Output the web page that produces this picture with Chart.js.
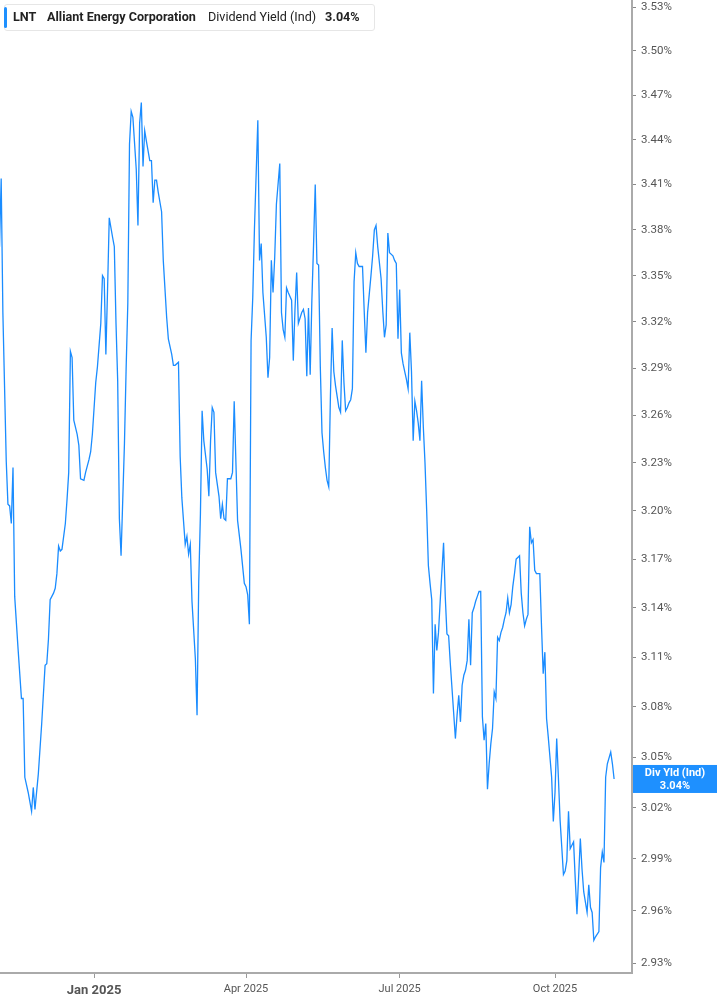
<!DOCTYPE html>
<html>
<head>
<meta charset="utf-8">
<title>LNT Dividend Yield (Ind)</title>
<script src="https://cdn.jsdelivr.net/npm/chart.js@4.4.1/dist/chart.umd.min.js"></script>
<style>
    html, body { margin: 0; padding: 0; background: #fff; }
    #wrap { position: relative; width: 717px; height: 1005px; }
    #legend {
        position: absolute; left: 4px; top: 4px; width: 369px; height: 25px;
        background: #fff; border: 1px solid #e6e6e6; border-radius: 3px;
        font-family: Roboto, sans-serif; font-size: 12.6px; color: #222;
    }
    #legend .bar { position: absolute; left: -1px; top: 2px; width: 3px; height: 21px; background: #1e90ff; border-radius: 2px; }
    #legend span { position: absolute; top: 4px; white-space: nowrap; }
    #legend .b { font-weight: bold; }
</style>
</head>
<body>
<div id="wrap">
    <canvas id="chartYield" width="717" height="1005"></canvas>
    <div id="legend">
        <div class="bar"></div>
        <span class="b" style="left:8px">LNT</span>
        <span class="b" style="left:42px">Alliant Energy Corporation</span>
        <span style="left:203px">Dividend Yield (Ind)</span>
        <span class="b" id="legendValue" style="left:320px"></span>
    </div>
</div>
<script>
// ===========================
// DATOS (días desde 1 ene 2025, rendimiento en %)
// ===========================
const days = [
    -56, -55, -54, -52, -51, -50, -49, -48, -47, -45, -43, -42, -41, -39, -37, -36, -35, -33, -31, -29,
    -28, -27, -26, -24, -23, -22, -21, -20, -19, -17, -16, -15, -14, -13, -12, -10, -9, -8, -6, -5,
    -3, -2, -1, 1, 2, 4, 5, 6, 7, 8, 9, 11, 12, 13, 14, 15, 16, 17, 18, 19,
    20, 21, 22, 23, 25, 26, 27, 28, 29, 30, 31, 33, 34, 35, 36, 37, 38, 40, 41, 43,
    44, 45, 46, 47, 48, 50, 51, 52, 54, 55, 56, 57, 58, 60, 61, 62, 63, 64, 65, 67,
    68, 69, 70, 71, 72, 74, 75, 76, 77, 78, 79, 81, 82, 83, 84, 85, 87, 89, 90, 91,
    92, 93, 94, 95, 97, 98, 99, 100, 102, 103, 104, 105, 106, 107, 108, 110, 111, 112, 113, 114,
    115, 117, 118, 119, 120, 121, 123, 124, 125, 126, 127, 128, 129, 130, 131, 132, 133, 134, 135, 136,
    137, 138, 139, 140, 141, 142, 143, 144, 145, 146, 147, 148, 149, 150, 151, 152, 153, 154, 155, 156,
    157, 159, 160, 161, 162, 163, 164, 165, 166, 167, 168, 170, 171, 172, 173, 174, 175, 177, 178, 179,
    180, 181, 182, 183, 184, 185, 186, 187, 188, 189, 190, 191, 192, 193, 194, 195, 196, 197, 198, 199,
    200, 201, 202, 203, 204, 205, 206, 207, 208, 209, 210, 211, 212, 213, 214, 215, 216, 217, 218, 219,
    220, 221, 222, 223, 224, 225, 226, 227, 228, 229, 230, 231, 232, 233, 234, 235, 236, 237, 238, 239,
    240, 241, 242, 243, 244, 245, 246, 247, 248, 249, 250, 251, 252, 253, 254, 255, 256, 257, 258, 259,
    260, 261, 262, 264, 265, 266, 267, 268, 269, 270, 271, 272, 273, 274, 275, 276, 277, 278, 279, 280,
    281, 282, 283, 284, 285, 286, 288, 289, 290, 292, 293, 294, 295, 296, 297, 299, 300, 301, 302, 303,
    304, 306, 307, 308
];

const yields = [
    3.369, 3.414, 3.326, 3.231, 3.204, 3.203, 3.192, 3.227, 3.147, 3.115, 3.085, 3.085, 3.038, 3.029, 3.018, 3.032, 3.019, 3.040, 3.070, 3.105,
    3.106, 3.121, 3.145, 3.149, 3.152, 3.161, 3.178, 3.175, 3.176, 3.192, 3.207, 3.224, 3.301, 3.297, 3.257, 3.248, 3.241, 3.220, 3.219, 3.224,
    3.232, 3.237, 3.248, 3.281, 3.291, 3.319, 3.350, 3.348, 3.299, 3.341, 3.388, 3.375, 3.369, 3.319, 3.282, 3.195, 3.172, 3.207, 3.242, 3.290,
    3.332, 3.437, 3.459, 3.455, 3.420, 3.383, 3.451, 3.465, 3.422, 3.446, 3.439, 3.426, 3.426, 3.398, 3.413, 3.413, 3.405, 3.392, 3.360, 3.323,
    3.309, 3.304, 3.299, 3.292, 3.292, 3.294, 3.234, 3.208, 3.179, 3.184, 3.173, 3.179, 3.144, 3.109, 3.075, 3.156, 3.198, 3.263, 3.244, 3.226,
    3.209, 3.244, 3.265, 3.262, 3.224, 3.209, 3.195, 3.204, 3.195, 3.194, 3.220, 3.220, 3.224, 3.269, 3.231, 3.194, 3.176, 3.155, 3.153, 3.148,
    3.130, 3.308, 3.336, 3.381, 3.453, 3.360, 3.371, 3.339, 3.310, 3.284, 3.297, 3.360, 3.339, 3.362, 3.397, 3.424, 3.326, 3.315, 3.310, 3.342,
    3.339, 3.334, 3.295, 3.328, 3.352, 3.319, 3.326, 3.328, 3.322, 3.285, 3.329, 3.286, 3.334, 3.370, 3.410, 3.358, 3.357, 3.291, 3.249, 3.237,
    3.227, 3.219, 3.215, 3.273, 3.316, 3.288, 3.279, 3.272, 3.265, 3.262, 3.308, 3.281, 3.263, 3.265, 3.268, 3.270, 3.277, 3.346, 3.365, 3.358,
    3.356, 3.356, 3.327, 3.300, 3.326, 3.338, 3.350, 3.363, 3.380, 3.383, 3.369, 3.348, 3.327, 3.310, 3.318, 3.378, 3.365, 3.363, 3.360, 3.358,
    3.309, 3.341, 3.300, 3.293, 3.288, 3.283, 3.277, 3.313, 3.288, 3.244, 3.269, 3.263, 3.255, 3.244, 3.282, 3.253, 3.230, 3.200, 3.166, 3.155,
    3.145, 3.088, 3.130, 3.114, 3.125, 3.144, 3.162, 3.180, 3.147, 3.124, 3.123, 3.106, 3.091, 3.076, 3.061, 3.075, 3.087, 3.071, 3.093, 3.099,
    3.102, 3.108, 3.133, 3.105, 3.137, 3.140, 3.144, 3.147, 3.150, 3.150, 3.074, 3.060, 3.070, 3.031, 3.046, 3.058, 3.067, 3.089, 3.085, 3.122,
    3.120, 3.125, 3.128, 3.133, 3.137, 3.146, 3.137, 3.142, 3.153, 3.161, 3.170, 3.171, 3.172, 3.149, 3.137, 3.129, 3.133, 3.136, 3.190, 3.180,
    3.182, 3.163, 3.161, 3.161, 3.129, 3.100, 3.113, 3.073, 3.062, 3.050, 3.038, 3.012, 3.029, 3.061, 3.038, 3.013, 2.997, 2.981, 2.983, 2.989,
    3.018, 2.996, 2.998, 3.000, 2.978, 2.958, 3.002, 2.984, 2.971, 2.959, 2.975, 2.962, 2.959, 2.943, 2.945, 2.948, 2.985, 2.994, 2.988, 3.038,
    3.046, 3.053, 3.046, 3.037
];

// Marcas de los ejes
const xTickDays = [0, 90, 181, 273];
const xTickLabels = ["Jan 2025", "Apr 2025", "Jul 2025", "Oct 2025"];
const yTicks = [2.93, 2.96, 2.99, 3.02, 3.05, 3.08, 3.11, 3.14, 3.17, 3.20, 3.23, 3.26, 3.29, 3.32, 3.35, 3.38, 3.41, 3.44, 3.47, 3.50, 3.53];

const lastValue = yields[yields.length - 1];
document.getElementById("legendValue").textContent = lastValue.toFixed(2) + "%";

// ===========================
// ETIQUETA DEL ÚLTIMO VALOR
// ===========================
const lastValueTag = {
    id: "lastValueTag",
    afterDraw(chart) {
        const { ctx, chartArea, scales } = chart;
        const y = scales.y.getPixelForValue(lastValue);
        const left = chartArea.right + 1;
        const cx = (left + chart.width) / 2;
        ctx.save();
        ctx.fillStyle = "#1e90ff";
        ctx.fillRect(left, y - 14, chart.width - left, 28);
        ctx.fillStyle = "#fff";
        ctx.font = "bold 11px Roboto";
        ctx.textAlign = "center";
        ctx.textBaseline = "middle";
        ctx.fillText("Div Yld (Ind)", cx, y - 6);
        ctx.fillText(lastValue.toFixed(2) + "%", cx, y + 7);
        ctx.restore();
    }
};

Chart.defaults.font.family = "Roboto";
Chart.defaults.color = "#555";

const ctx = document.getElementById("chartYield").getContext("2d");

new Chart(ctx, {
    type: "line",
    data: {
        datasets: [{
            label: "Div Yld (Ind)",
            data: days.map((d, i) => ({ x: d, y: yields[i] })),
            borderColor: "#1a8cff",
            borderWidth: 1.3,
            pointRadius: 0,
            tension: 0,
            fill: false
        }]
    },
    options: {
        responsive: false,
        animation: false,
        devicePixelRatio: 1,
        layout: { padding: 0 },
        plugins: {
            legend: { display: false },
            tooltip: { enabled: false }
        },
        scales: {
            x: {
                type: "linear",
                min: -55.7,
                max: 318.6,
                afterBuildTicks: scale => {
                    scale.ticks = xTickDays.map(v => ({ value: v }));
                },
                afterFit: scale => {
                    scale.height = 32;
                    scale.paddingLeft = 0;
                    scale.paddingRight = 0;
                },
                ticks: {
                    autoSkip: false,
                    maxRotation: 0,
                    padding: 5,
                    color: "#555",
                    callback: v => xTickLabels[xTickDays.indexOf(v)],
                    font: c => (c.tick && c.tick.value === 0)
                        ? { family: "Roboto", size: 13, weight: "bold" }
                        : { family: "Roboto", size: 11 }
                },
                grid: { drawOnChartArea: false, tickLength: 5, color: "#999" },
                border: { display: true, color: "#aaa", width: 2 }
            },
            y: {
                type: "logarithmic",
                position: "right",
                min: 2.9243,
                max: 3.5349,
                afterBuildTicks: scale => {
                    scale.ticks = yTicks.map(v => ({ value: v }));
                },
                afterFit: scale => {
                    scale.width = 85;
                    scale.paddingTop = 0;
                    scale.paddingBottom = 0;
                },
                ticks: {
                    autoSkip: false,
                    padding: 5,
                    color: "#555",
                    font: { family: "Roboto", size: 11.5 },
                    callback: v => v.toFixed(2) + "%"
                },
                grid: { drawOnChartArea: false, tickLength: 4, color: "#888" },
                border: { display: true, color: "#aaa", width: 2 }
            }
        }
    },
    plugins: [lastValueTag]
});
</script>
</body>
</html>
